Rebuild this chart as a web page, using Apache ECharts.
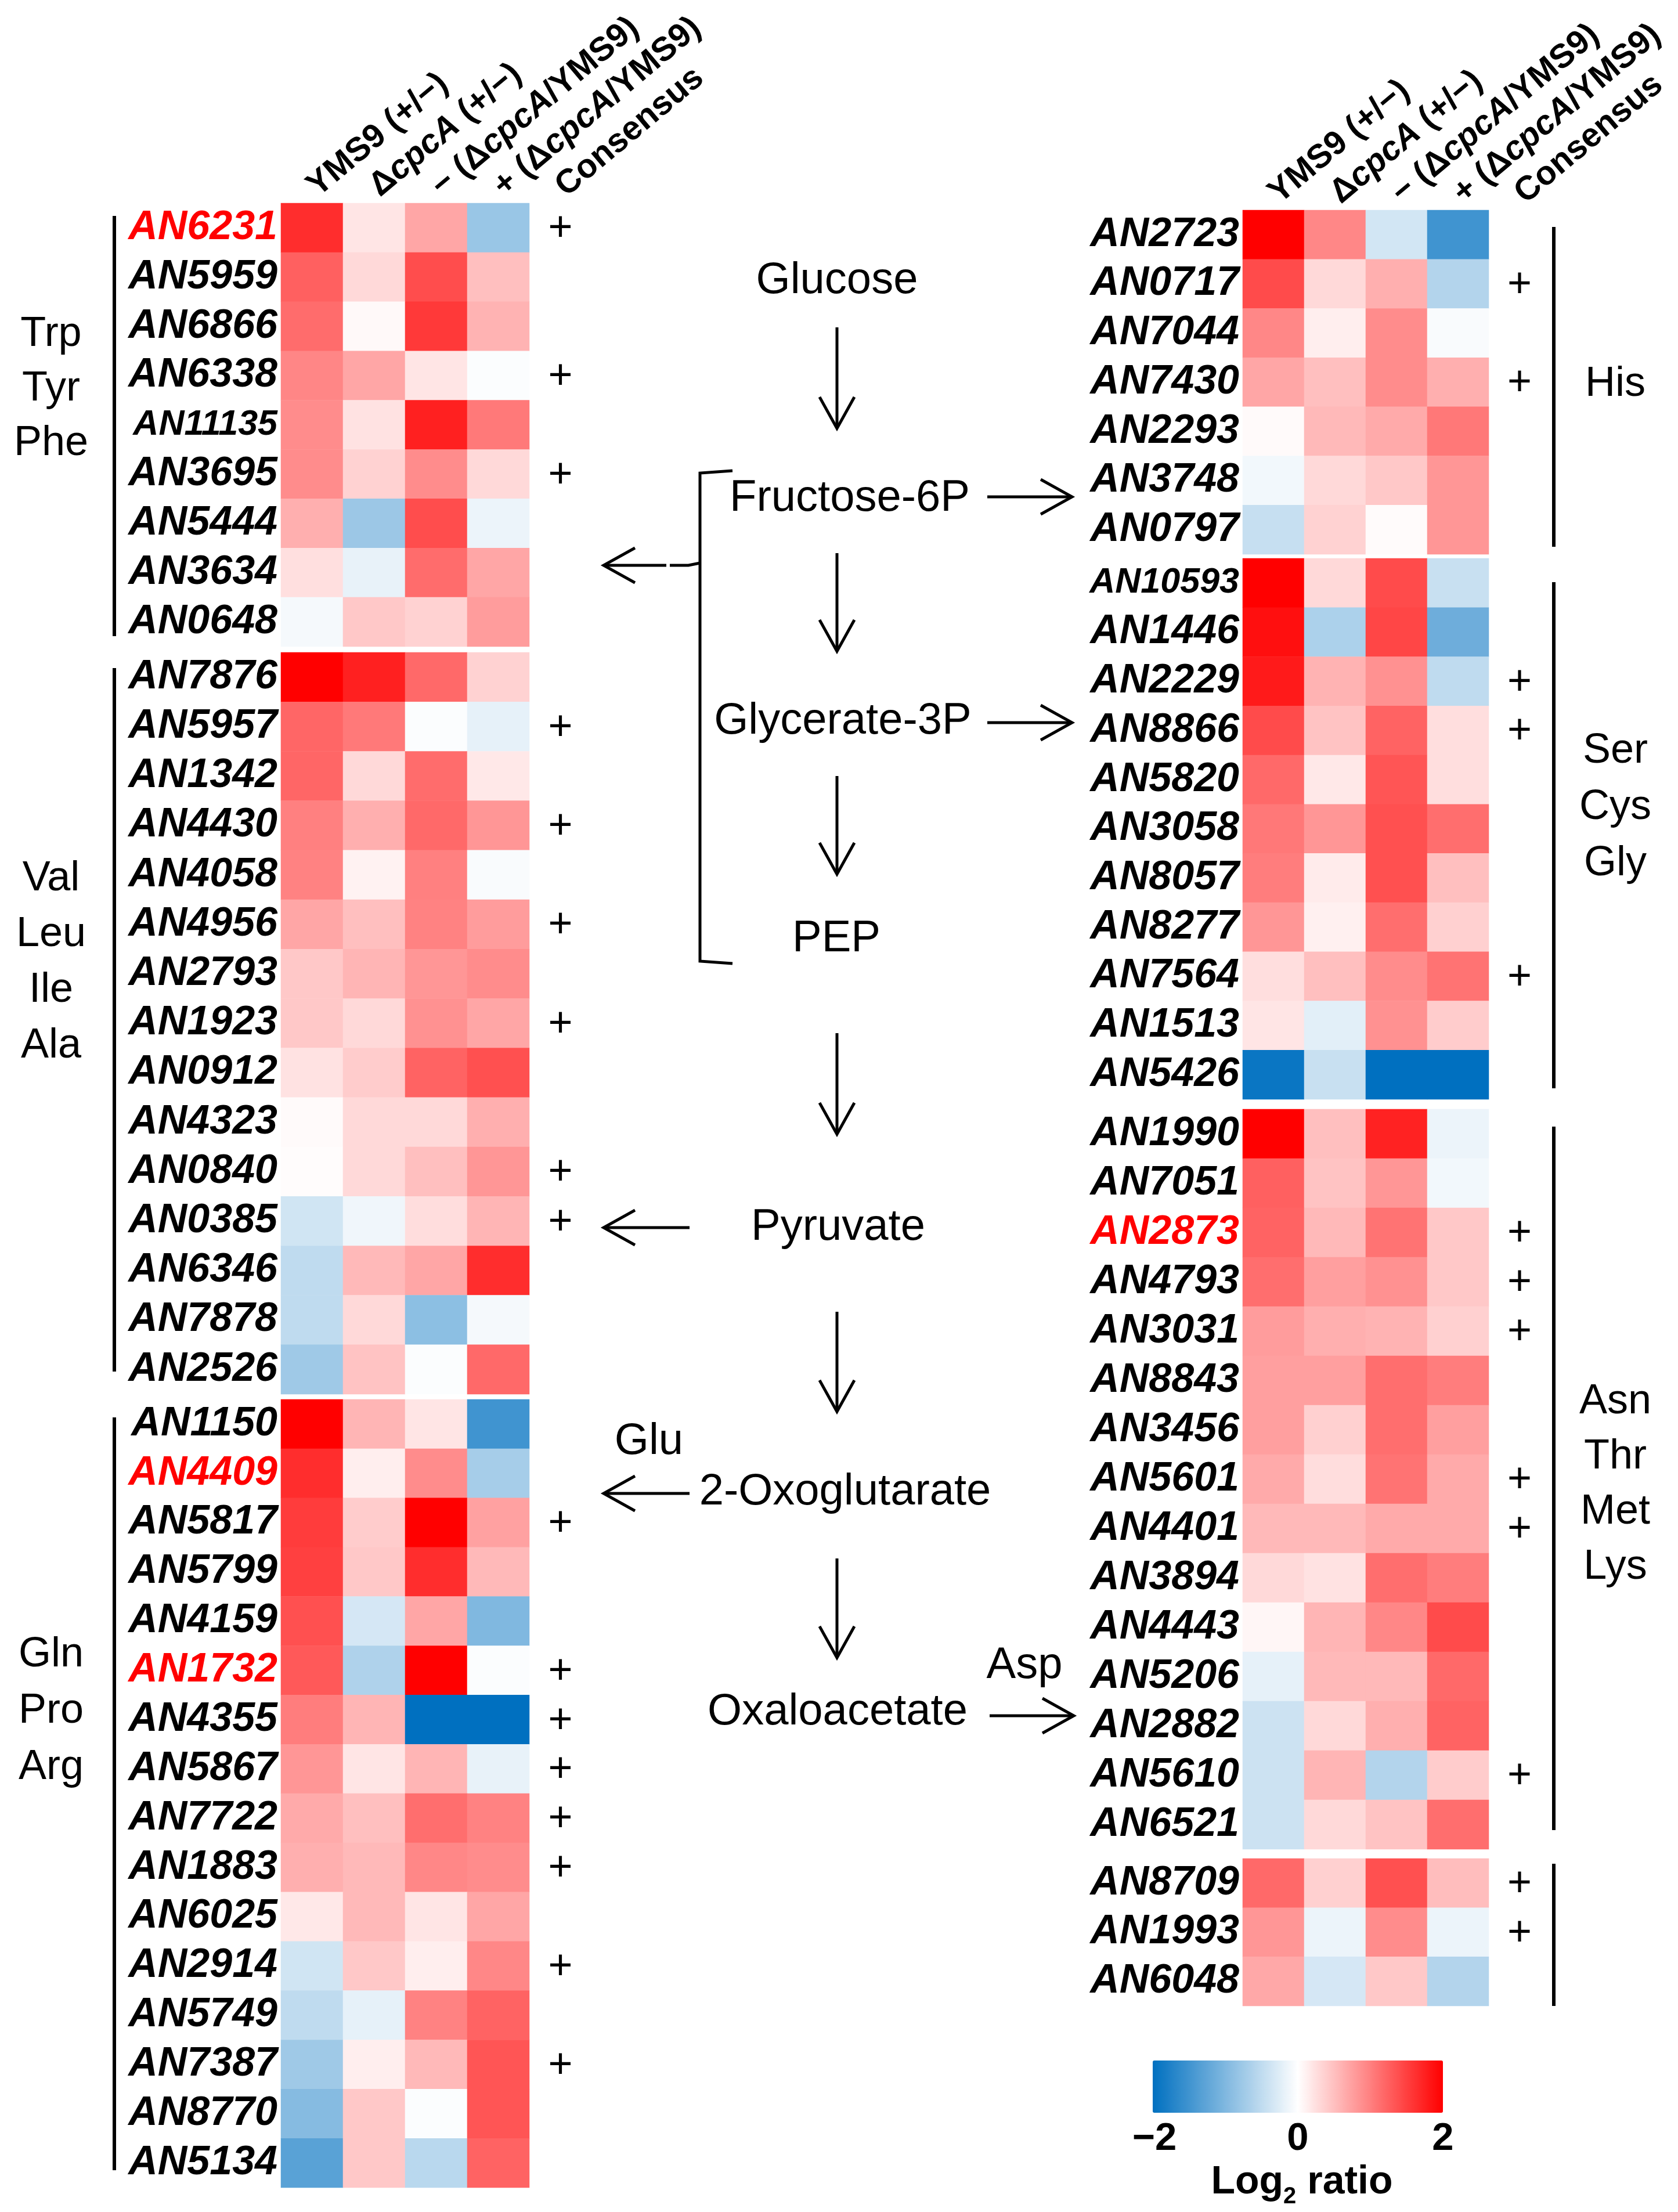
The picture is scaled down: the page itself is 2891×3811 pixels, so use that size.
<!DOCTYPE html>
<html>
<head>
<meta charset="utf-8">
<script src="https://cdn.jsdelivr.net/npm/echarts/dist/echarts.min.js"></script>
<style>
  html, body { margin: 0; padding: 0; background: #ffffff; }
  #c { width: 2891px; height: 3811px; }
</style>
</head>
<body>
<div id="c"></div>
<script>
// ---------------- DATA ----------------
const columns = ['YMS9 (+/−)', 'ΔcpcA (+/−)', '− (ΔcpcA/YMS9)', '+ (ΔcpcA/YMS9)', 'Consensus'];

const genesTrp = ['AN6231','AN5959','AN6866','AN6338','AN11135','AN3695','AN5444','AN3634','AN0648'];
const valuesTrp = [
  [1.65, 0.20, 0.70, -0.80],
  [1.25, 0.30, 1.40, 0.50],
  [1.15, 0.05, 1.55, 0.60],
  [0.95, 0.70, 0.20, -0.03],
  [0.90, 0.23, 1.75, 1.05],
  [0.90, 0.35, 0.90, 0.30],
  [0.63, -0.78, 1.40, -0.15],
  [0.25, -0.18, 1.15, 0.70],
  [-0.08, 0.43, 0.35, 0.78]
];

const genesVal = ['AN7876','AN5957','AN1342','AN4430','AN4058','AN4956','AN2793','AN1923','AN0912','AN4323','AN0840','AN0385','AN6346','AN7878','AN2526'];
const valuesVal = [
  [2.00, 1.75, 1.18, 0.35],
  [1.20, 1.05, -0.03, -0.20],
  [1.20, 0.30, 1.15, 0.18],
  [1.00, 0.63, 1.18, 0.82],
  [0.98, 0.10, 1.00, -0.05],
  [0.70, 0.50, 0.98, 0.78],
  [0.43, 0.58, 0.82, 0.90],
  [0.43, 0.30, 0.86, 0.70],
  [0.23, 0.40, 1.22, 1.37],
  [0.04, 0.30, 0.30, 0.63],
  [0.02, 0.30, 0.50, 0.82],
  [-0.37, -0.12, 0.27, 0.58],
  [-0.50, 0.55, 0.70, 1.65],
  [-0.50, 0.30, -0.90, -0.08],
  [-0.75, 0.47, -0.03, 1.18]
];

const genesGln = ['AN1150','AN4409','AN5817','AN5799','AN4159','AN1732','AN4355','AN5867','AN7722','AN1883','AN6025','AN2914','AN5749','AN7387','AN8770','AN5134'];
const valuesGln = [
  [2.00, 0.58, 0.20, -1.50],
  [1.65, 0.13, 0.90, -0.70],
  [1.53, 0.40, 2.00, 0.74],
  [1.50, 0.43, 1.65, 0.55],
  [1.37, -0.33, 0.70, -1.00],
  [1.30, -0.63, 2.00, -0.03],
  [1.02, 0.58, -2.00, -2.00],
  [0.82, 0.20, 0.58, -0.18],
  [0.67, 0.50, 1.14, 0.98],
  [0.63, 0.55, 0.94, 0.90],
  [0.18, 0.55, 0.20, 0.70],
  [-0.37, 0.43, 0.13, 0.94],
  [-0.50, -0.20, 0.98, 1.22],
  [-0.75, 0.13, 0.55, 1.33],
  [-0.95, 0.43, -0.03, 1.33],
  [-1.30, 0.43, -0.55, 1.22]
];

const genesHis = ['AN2723','AN0717','AN7044','AN7430','AN2293','AN3748','AN0797'];
const valuesHis = [
  [2.00, 0.94, -0.35, -1.50],
  [1.41, 0.30, 0.63, -0.60],
  [0.94, 0.13, 0.90, -0.05],
  [0.70, 0.50, 0.90, 0.63],
  [0.04, 0.55, 0.67, 1.06],
  [-0.10, 0.30, 0.43, 0.82],
  [-0.45, 0.35, 0.03, 0.82]
];

const genesSer = ['AN10593','AN1446','AN2229','AN8866','AN5820','AN3058','AN8057','AN8277','AN7564','AN1513','AN5426'];
const valuesSer = [
  [2.00, 0.30, 1.41, -0.43],
  [1.88, -0.65, 1.45, -1.14],
  [1.80, 0.60, 0.86, -0.50],
  [1.41, 0.47, 1.22, 0.26],
  [1.18, 0.18, 1.33, 0.26],
  [1.06, 0.82, 1.37, 1.14],
  [1.02, 0.16, 1.37, 0.50],
  [0.82, 0.12, 1.14, 0.37],
  [0.26, 0.50, 0.90, 1.10],
  [0.20, -0.23, 0.86, 0.40],
  [-1.92, -0.43, -2.00, -2.00]
];

const genesAsn = ['AN1990','AN7051','AN2873','AN4793','AN3031','AN8843','AN3456','AN5601','AN4401','AN3894','AN4443','AN5206','AN2882','AN5610','AN6521'];
const valuesAsn = [
  [2.00, 0.50, 1.73, -0.15],
  [1.25, 0.47, 0.82, -0.10],
  [1.22, 0.55, 1.10, 0.43],
  [1.14, 0.75, 0.86, 0.43],
  [0.78, 0.63, 0.60, 0.37],
  [0.75, 0.75, 1.14, 1.02],
  [0.75, 0.37, 1.14, 0.75],
  [0.67, 0.27, 1.10, 0.67],
  [0.55, 0.55, 0.67, 0.67],
  [0.30, 0.23, 1.14, 1.02],
  [0.07, 0.58, 0.94, 1.41],
  [-0.20, 0.55, 0.55, 1.18],
  [-0.40, 0.30, 0.63, 1.22],
  [-0.40, 0.58, -0.60, 0.40],
  [-0.40, 0.30, 0.47, 1.14]
];

const genesOther = ['AN8709','AN1993','AN6048'];
const valuesOther = [
  [1.18, 0.37, 1.37, 0.52],
  [0.82, -0.15, 0.90, -0.15],
  [0.68, -0.33, 0.43, -0.60]
];

const consensusGenes = ['AN6231','AN6338','AN3695','AN5957','AN4430','AN4956','AN1923','AN0840','AN0385',
  'AN5817','AN1732','AN4355','AN5867','AN7722','AN1883','AN2914','AN7387',
  'AN0717','AN7430','AN2229','AN8866','AN7564','AN2873','AN4793','AN3031','AN5601','AN4401','AN5610',
  'AN8709','AN1993'];
const highlightedGenes = ['AN6231','AN4409','AN1732','AN2873'];
const colorbarTicks = ['−2', '0', '2'];

// ---------------- LAYOUT ----------------
const FONT = "'Liberation Sans', Arial, Helvetica, sans-serif";
const NARROW = "'Liberation Sans Narrow', 'Arial Narrow', 'Liberation Sans', sans-serif";

const panels = [
  { genes: genesTrp, values: valuesTrp, left: 484, top: 350, width: 535, height: 764, header: true },
  { genes: genesVal, values: valuesVal, left: 484, top: 1124, width: 535, height: 1278 },
  { genes: genesGln, values: valuesGln, left: 484, top: 2411, width: 535, height: 1358 },
  { genes: genesHis, values: valuesHis, left: 2141, top: 362, width: 530, height: 593, header: true },
  { genes: genesSer, values: valuesSer, left: 2141, top: 962, width: 530, height: 932 },
  { genes: genesAsn, values: valuesAsn, left: 2141, top: 1911, width: 530, height: 1275 },
  { genes: genesOther, values: valuesOther, left: 2141, top: 3202, width: 530, height: 254 }
];

const headerRich = {
  b: { fontFamily: FONT, fontWeight: 'bold', fontSize: 58, color: '#000' },
  i: { fontFamily: FONT, fontWeight: 'bold', fontStyle: 'italic', fontSize: 58, color: '#000' }
};
function headerFormatter(v) {
  return v.split('cpcA').map(p => p ? '{b|' + p + '}' : '').join('{i|cpcA}');
}
const geneRich = {
  n: { fontFamily: FONT, fontWeight: 'bold', fontStyle: 'italic', fontSize: 70, color: '#000' },
  r: { fontFamily: FONT, fontWeight: 'bold', fontStyle: 'italic', fontSize: 70, color: '#ff0000' },
  s: { fontFamily: FONT, fontWeight: 'bold', fontStyle: 'italic', fontSize: 61, color: '#000' }
};
function geneFormatter(v) {
  if (highlightedGenes.includes(v)) return '{r|' + v + '}';
  if (v.length > 6) return '{s|' + v + '}';
  return '{n|' + v + '}';
}

const grid = panels.map(p => ({ left: p.left, top: p.top, width: p.width, height: p.height, outerBoundsMode: 'none', containLabel: false }));
const xAxis = panels.map((p, i) => ({
  type: 'category', gridIndex: i, data: columns, position: 'top',
  axisLine: { show: false }, axisTick: { show: false }, splitLine: { show: false },
  axisLabel: p.header ? { show: true, interval: 0, rotate: -40, margin: 22, align: 'left', verticalAlign: 'middle',
    formatter: headerFormatter, rich: headerRich } : { show: false }
}));
const yAxis = panels.map((p, i) => ({
  type: 'category', gridIndex: i, data: p.genes, inverse: true,
  axisLine: { show: false }, axisTick: { show: false }, splitLine: { show: false },
  axisLabel: { show: true, interval: 0, margin: 6, formatter: geneFormatter, rich: geneRich }
}));

const series = [];
panels.forEach((p, i) => {
  const data = [];
  p.values.forEach((row, r) => row.forEach((v, c) => data.push([c, r, v])));
  series.push({
    type: 'heatmap', xAxisIndex: i, yAxisIndex: i, data: data,
    itemStyle: { borderWidth: 0 }, emphasis: { disabled: true }, silent: true
  });
});
const heatmapIdx = panels.map((p, i) => i);
panels.forEach((p, i) => {
  const data = [];
  p.genes.forEach((g, r) => { if (consensusGenes.includes(g)) data.push([4, r]); });
  series.push({
    type: 'custom', xAxisIndex: i, yAxisIndex: i, data: data, silent: true,
    encode: { x: 0, y: 1 },
    renderItem: function (params, api) {
      const pt = api.coord([api.value(0), api.value(1)]);
      return { type: 'text', x: pt[0], y: pt[1] + 2,
        style: { text: '+', fontSize: 72, fontFamily: FONT, fill: '#000', align: 'center', verticalAlign: 'middle' } };
    }
  });
});

// ---------------- GRAPHICS (pathway, brackets, labels) ----------------
const LW = 5;
function arrow(x1, y1, x2, y2) {
  const dx = x2 - x1, dy = y2 - y1, len = Math.sqrt(dx * dx + dy * dy);
  const ux = dx / len, uy = dy / len, px = -uy, py = ux;
  const back = 54, half = 30;
  return [
    { type: 'polyline', shape: { points: [[x1, y1], [x2, y2]] }, style: { stroke: '#000', lineWidth: LW, fill: null } },
    { type: 'polyline', shape: { points: [[x2 - ux * back + px * half, y2 - uy * back + py * half], [x2, y2], [x2 - ux * back - px * half, y2 - uy * back - py * half]] },
      style: { stroke: '#000', lineWidth: LW, fill: null } }
  ];
}
function txt(text, x, y, size, extra) {
  return Object.assign({ type: 'text', x: x, y: y,
    style: Object.assign({ text: text, fontSize: size, fontFamily: FONT, fill: '#000', align: 'center', verticalAlign: 'middle' }, extra || {}) });
}
function vline(x, y1, y2) {
  return { type: 'line', shape: { x1: x, y1: y1, x2: x, y2: y2 }, style: { stroke: '#000', lineWidth: 6 } };
}

let g = [];
// pathway
g.push(txt('Glucose', 1442, 484, 76));
g = g.concat(arrow(1442, 564, 1442, 738));
g.push(txt('Fructose-6P', 1464, 859, 76));
g = g.concat(arrow(1701, 856, 1847, 856));
g = g.concat(arrow(1442, 953, 1442, 1122));
g.push(txt('Glycerate-3P', 1452, 1243, 76));
g = g.concat(arrow(1701, 1245, 1847, 1245));
g = g.concat(arrow(1442, 1337, 1442, 1506));
g.push(txt('PEP', 1441, 1618, 76));
g.push({ type: 'polyline', shape: { points: [[1262, 811], [1206, 815], [1206, 1656], [1262, 1660]] }, style: { stroke: '#000', lineWidth: LW, fill: null } });
g.push({ type: 'polyline', shape: { points: [[1206, 970], [1186, 974], [1154, 974]] }, style: { stroke: '#000', lineWidth: LW, fill: null } });
g = g.concat(arrow(1148, 974, 1040, 974));
g = g.concat(arrow(1442, 1780, 1442, 1954));
g.push(txt('Pyruvate', 1444, 2115, 76));
g = g.concat(arrow(1188, 2115, 1040, 2115));
g = g.concat(arrow(1442, 2260, 1442, 2432));
g.push(txt('Glu', 1118, 2484, 76));
g.push(txt('2-Oxoglutarate', 1456, 2571, 76));
g = g.concat(arrow(1188, 2573, 1040, 2573));
g = g.concat(arrow(1442, 2685, 1442, 2856));
g.push(txt('Oxaloacetate', 1443, 2950, 76));
g.push(txt('Asp', 1765, 2870, 76));
g = g.concat(arrow(1705, 2956, 1850, 2956));

// group brackets
[[372, 1096], [1151, 2363], [2442, 3739]].forEach(s => g.push(vline(197, s[0], s[1])));
[[391, 942], [1003, 1875], [1941, 3153], [3211, 3456]].forEach(s => g.push(vline(2677, s[0], s[1])));

// group labels
g.push(txt('Trp\nTyr\nPhe', 88, 670, 72, { lineHeight: 94 }));
g.push(txt('Val\nLeu\nIle\nAla', 88, 1658, 72, { lineHeight: 96 }));
g.push(txt('Gln\nPro\nArg', 88, 2948, 72, { lineHeight: 97 }));
g.push(txt('His', 2783, 662, 72));
g.push(txt('Ser\nCys\nGly', 2783, 1391, 72, { lineHeight: 97 }));
g.push(txt('Asn\nThr\nMet\nLys', 2783, 2558, 72, { lineHeight: 95 }));

// colorbar labels
const cbLeft = 1986, cbWidth = 500;
colorbarTicks.forEach((t, k) => {
  g.push(txt(t, cbLeft + k * cbWidth / 2 + (k === 0 ? 3 : 0), 3686, 67, { fontFamily: NARROW, fontWeight: 'bold' }));
});
g.push({ type: 'text', x: 2243, y: 3760, style: {
  text: '{a|Log}{s|2}{a| ratio}', align: 'center', verticalAlign: 'middle',
  rich: {
    a: { fontFamily: NARROW, fontWeight: 'bold', fontSize: 68, lineHeight: 90, fill: '#000', color: '#000', verticalAlign: 'middle' },
    s: { fontFamily: NARROW, fontWeight: 'bold', fontSize: 40, lineHeight: 40, fill: '#000', color: '#000', verticalAlign: 'bottom' }
  } } });

const option = {
  animation: false,
  backgroundColor: '#ffffff',
  grid: grid, xAxis: xAxis, yAxis: yAxis, series: series,
  visualMap: {
    type: 'continuous', min: -2, max: 2, seriesIndex: heatmapIdx,
    inRange: { color: ['#0070C0', '#FFFFFF', '#FF0000'] },
    orient: 'horizontal', left: cbLeft, top: 3550, itemWidth: 90, itemHeight: cbWidth,
    calculable: false, hoverLink: false, padding: 0, text: null, show: true,
    textStyle: { fontSize: 1, color: 'rgba(0,0,0,0)' }
  },
  graphic: g
};

const chart = echarts.init(document.getElementById('c'), null, { width: 2891, height: 3811, renderer: 'canvas' });
chart.setOption(option);
</script>
</body>
</html>
